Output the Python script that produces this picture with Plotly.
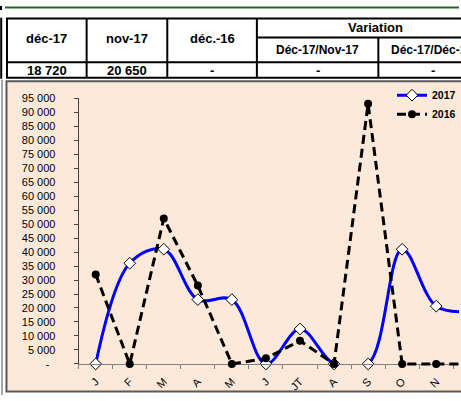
import plotly.graph_objects as go

W, H = 461, 401

# ---------------- data ----------------
months = ["J", "F", "M", "A", "M", "J", "JT", "A", "S", "O", "N", "D"]
values_2017 = [0, 36000, 41000, 23000, 23000, 0, 12500, 0, 0, 41000, 20650, 18720]
values_2016 = [32000, 0, 52000, 28000, 0, 2000, 8300, 0, 93000, 0, 0, 0]
y_tick_values = [0, 5000, 10000, 15000, 20000, 25000, 30000, 35000, 40000, 45000,
                 50000, 55000, 60000, 65000, 70000, 75000, 80000, 85000, 90000, 95000]
y_tick_labels = ["-\u00a0\u00a0", "5\u00a0000", "10\u00a0000", "15\u00a0000", "20\u00a0000",
                 "25\u00a0000", "30\u00a0000", "35\u00a0000", "40\u00a0000", "45\u00a0000",
                 "50\u00a0000", "55\u00a0000", "60\u00a0000", "65\u00a0000", "70\u00a0000",
                 "75\u00a0000", "80\u00a0000", "85\u00a0000", "90\u00a0000", "95\u00a0000"]

head_labels = ["déc-17", "nov-17", "déc.-16"]
variation_title = "Variation"
variation_labels = ["Déc-17/Nov-17", "Déc-17/Déc-16"]
row_values = ["18 720", "20 650", "-", "-", "-"]

# ---------------- geometry helpers ----------------
def px(x):
    return x / W

def py(y):
    return 1 - y / H

FONT = "Liberation Sans, Arial, sans-serif"
x_idx = list(range(len(months)))

AX_LEFT = 79.0
CAT_W = 34.2
Y0_PX, YTOP_PX = 369.0, 95.0
YMAX = 95000
k = YMAX / (Y0_PX - YTOP_PX)  # value per pixel

x_range = [-0.5, -0.5 + (W - AX_LEFT) / CAT_W]

fig = go.Figure()

fig.add_trace(go.Scatter(
    x=x_idx, y=values_2017, name="2017", mode="lines+markers",
    line=dict(color="#0000FF", width=3, shape="spline", smoothing=1),
    marker=dict(symbol="diamond", size=9, color="white", line=dict(color="black", width=1)),
    cliponaxis=False, xaxis="x", yaxis="y",
))
fig.add_trace(go.Scatter(
    x=x_idx, y=values_2016, name="2016", mode="lines+markers",
    line=dict(color="black", width=3, dash="9px,5px"),
    marker=dict(symbol="circle", size=8, color="black"),
    cliponaxis=False, xaxis="x2", yaxis="y2",
))

ext_bot, ext_top = 385.0, 85.0
fig.update_layout(
    width=W, height=H,
    margin=dict(l=0, r=0, t=0, b=0),
    paper_bgcolor="white",
    plot_bgcolor="rgba(0,0,0,0)",
    font=dict(family=FONT, size=11, color="black"),
    showlegend=True,
    legend=dict(x=px(394), y=py(77), xanchor="left", yanchor="top",
                bgcolor="rgba(0,0,0,0)", font=dict(family=FONT, size=10.5, weight="bold"),
                itemwidth=30, tracegroupgap=0),
    xaxis=dict(domain=[px(AX_LEFT), 1], range=x_range, type="linear",
               tickvals=x_idx, ticktext=months, tickangle=-45,
               ticks="outside", ticklen=6, tickcolor="rgba(0,0,0,0)",
               minor=dict(tickvals=[i - 0.5 for i in x_idx], ticks="outside", ticklen=4,
                          tickcolor="#808080", showgrid=False),
               showline=True, linecolor="#808080", linewidth=1,
               showgrid=False, zeroline=False, anchor="y",
               tickfont=dict(size=11, color="black")),
    yaxis=dict(domain=[py(Y0_PX), py(YTOP_PX)], range=[0, YMAX],
               tickvals=y_tick_values, ticktext=y_tick_labels,
               ticks="outside", ticklen=4, tickcolor="#404040",
               showline=True, linecolor="#404040", linewidth=1,
               showgrid=False, zeroline=False, anchor="x",
               ticklabelstandoff=16, tickfont=dict(size=11, color="black")),
    xaxis2=dict(domain=[px(AX_LEFT), 1], range=x_range, visible=False, anchor="y2"),
    yaxis2=dict(domain=[py(ext_bot), py(ext_top)],
                range=[-(ext_bot - Y0_PX) * k, YMAX + (YTOP_PX - ext_top) * k],
                visible=False, anchor="x2"),
)

shapes = []
# chart area box
shapes.append(dict(type="rect", xref="paper", yref="paper",
                   x0=px(6.5), x1=px(470), y0=py(77.5), y1=py(397.5),
                   fillcolor="#FDE9D9", line=dict(color="#595959", width=2), layer="below"))
# left gray sheet line
shapes.append(dict(type="line", xref="paper", yref="paper",
                   x0=px(2), x1=px(2), y0=py(76), y1=py(401),
                   line=dict(color="#A6A6A6", width=2), layer="below"))
# top green line and small marks
shapes.append(dict(type="line", xref="paper", yref="paper",
                   x0=px(5), x1=px(461), y0=py(1.5), y1=py(1.5),
                   line=dict(color="#1E6B1E", width=2), layer="below"))
shapes.append(dict(type="line", xref="paper", yref="paper",
                   x0=px(1), x1=px(1), y0=py(0), y1=py(4),
                   line=dict(color="black", width=2), layer="below"))
shapes.append(dict(type="line", xref="paper", yref="paper",
                   x0=px(1.2), x1=px(1.2), y0=py(12), y1=py(75),
                   line=dict(color="black", width=2), layer="below"))

# table grid
col_x = [7, 87, 168, 258, 380]
tbl_top, tbl_mid, tbl_row, tbl_bot = 13, 32.5, 58, 74
def hline(y, x0, x1):
    shapes.append(dict(type="line", xref="paper", yref="paper",
                       x0=px(x0), x1=px(x1), y0=py(y), y1=py(y),
                       line=dict(color="black", width=2), layer="below"))
def vline(x, y0, y1):
    shapes.append(dict(type="line", xref="paper", yref="paper",
                       x0=px(x), x1=px(x), y0=py(y0), y1=py(y1),
                       line=dict(color="black", width=2), layer="below"))

hline(tbl_top, 6, 470)
hline(tbl_mid, 258, 470)
hline(tbl_row, 6, 470)
hline(tbl_bot, 6, 470)
for i, cx in enumerate(col_x):
    if i == 4:
        vline(cx, tbl_mid, tbl_bot)
    else:
        vline(cx, tbl_top, tbl_bot)

annotations = []
def txt(x, y, s, size):
    annotations.append(dict(x=px(x), y=py(y), xref="paper", yref="paper", text=s,
                            showarrow=False, xanchor="center", yanchor="middle",
                            font=dict(family=FONT, size=size, color="black", weight="bold")))

head_centers = [47, 127.5, 213]
for cx, s in zip(head_centers, head_labels):
    txt(cx, 34, s, 13)
txt(377, 22, variation_title, 13)
sub_centers = [319, 434]
for cx, s in zip(sub_centers, variation_labels):
    txt(cx, 45.5, s, 12)
val_centers = [47, 127.5, 213, 319, 435]
for cx, s in zip(val_centers, row_values):
    txt(cx, 66, s, 13)

fig.update_layout(shapes=shapes, annotations=annotations)
fig.write_html("out.html", config={"displayModeBar": False},
               post_script="document.body.style.margin='0px';document.body.style.overflow='hidden';")
